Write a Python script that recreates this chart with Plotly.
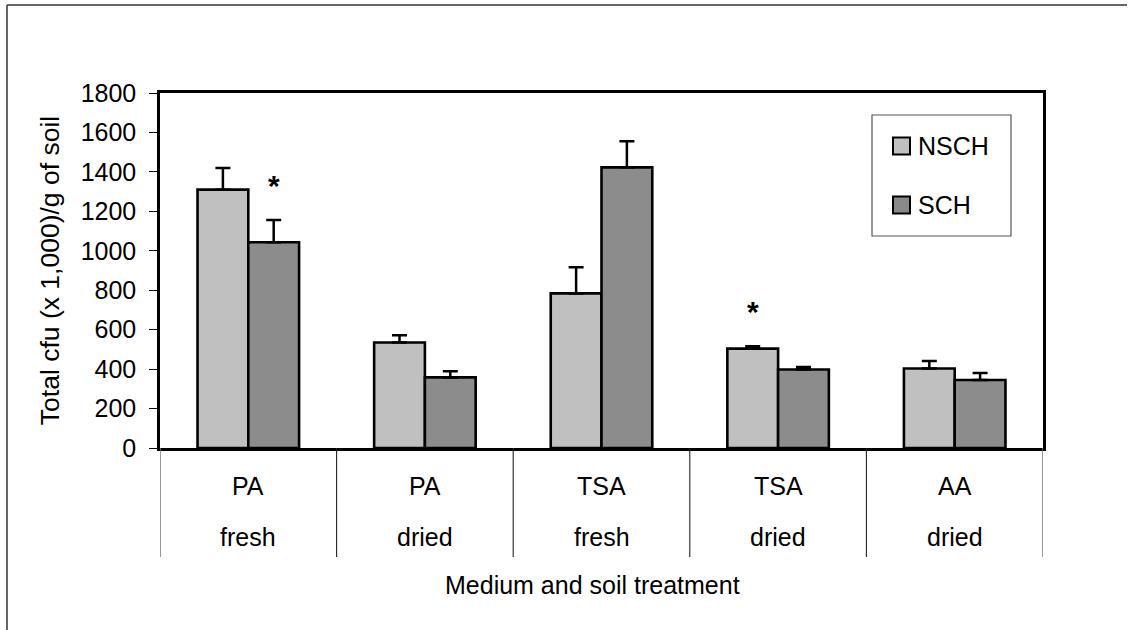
import plotly.graph_objects as go

# Medium / soil-treatment groups
media = ["PA", "PA", "TSA", "TSA", "AA"]
treatments = ["fresh", "dried", "fresh", "dried", "dried"]
categories = [f"{m} {t}" for m, t in zip(media, treatments)]

# Total cfu (x 1,000) per g of soil, with standard errors
series_names = ["NSCH", "SCH"]
nsch_values = [1310, 535, 784, 504, 403]
nsch_errors = [110, 37, 132, 12, 38]
sch_values = [1043, 358, 1423, 398, 345]
sch_errors = [113, 31, 132, 13, 35]

# Significance markers: category index, series, height of asterisk
sig_category = [0, 3]
sig_series = ["SCH", "NSCH"]
sig_height = [1330, 690]

y_ticks = [0, 200, 400, 600, 800, 1000, 1200, 1400, 1600, 1800]

FONT = "Liberation Sans, Arial, sans-serif"
W, H = 1130, 630
L, R, T, B = 160, 87, 93, 182

NSCH_FILL = "#c0c0c0"
SCH_FILL = "#8a8a8a"

fig = go.Figure()

fig.add_trace(go.Bar(
    name=series_names[0], x=categories, y=nsch_values,
    marker=dict(color=NSCH_FILL, line=dict(color="black", width=2.6)),
    error_y=dict(type="data", array=nsch_errors, arrayminus=[0] * 5,
                 symmetric=False, color="black", thickness=2.5, width=7.5),
))
fig.add_trace(go.Bar(
    name=series_names[1], x=categories, y=sch_values,
    marker=dict(color=SCH_FILL, line=dict(color="black", width=2.6),
                pattern=dict(shape=".", fgcolor="#666666", bgcolor="#aaaaaa",
                             size=2, solidity=0.5, fillmode="replace")),
    error_y=dict(type="data", array=sch_errors, arrayminus=[0] * 5,
                 symmetric=False, color="black", thickness=2.5, width=7.5),
))

plot_w = W - L - R
plot_h = H - T - B


def py(pix):
    """Pixel row -> paper y."""
    return (H - B - pix) / plot_h


def px(pix):
    """Pixel column -> paper x."""
    return (pix - L) / plot_w


annotations = []
shapes = []
label_font = dict(size=25, family=FONT, color="black")

# two-line category labels and separators below the axis
for i, (m, t) in enumerate(zip(media, treatments)):
    annotations.append(dict(x=i, xref="x", y=py(486), yref="paper", text=m,
                            xanchor="center", yanchor="middle",
                            showarrow=False, font=label_font))
    annotations.append(dict(x=i, xref="x", y=py(537), yref="paper", text=t,
                            xanchor="center", yanchor="middle",
                            showarrow=False, font=label_font))
for k in range(len(categories) + 1):
    edge = k in (0, len(categories))
    shapes.append(dict(type="line", xref="x", yref="paper",
                       x0=k - 0.5, x1=k - 0.5, y0=0, y1=py(557),
                       line=dict(color="#777777" if edge else "#222222",
                                 width=1.5 if edge else 1.1)))

# significance asterisks
bar_half = plot_w / len(categories) * 0.575 / 4
for ci, s, h in zip(sig_category, sig_series, sig_height):
    annotations.append(dict(
        x=ci, xref="x", y=h, yref="y", text="<b>*</b>", showarrow=False,
        xshift=bar_half if s == "SCH" else -bar_half,
        font=dict(size=30, family=FONT, color="black")))

# axis title below the category labels
annotations.append(dict(x=px(592), xref="paper", y=py(585), yref="paper",
                        text="Medium and soil treatment", showarrow=False,
                        xanchor="center", yanchor="middle", font=label_font))

# boxed key with square swatches
shapes.append(dict(type="rect", xref="paper", yref="paper",
                   x0=px(872), x1=px(1011), y0=py(236), y1=py(115),
                   line=dict(color="#555555", width=1.2), fillcolor="white"))
for name, fill, cy in zip(series_names, [NSCH_FILL, SCH_FILL], [146, 205]):
    shapes.append(dict(type="rect", xref="paper", yref="paper",
                       x0=px(893), x1=px(910), y0=py(cy + 8.5), y1=py(cy - 8.5),
                       line=dict(color="black", width=2), fillcolor=fill))
    annotations.append(dict(x=px(916), xref="paper", y=py(cy), yref="paper",
                            text=name, showarrow=False, xanchor="left",
                            yanchor="middle", font=label_font))

# outer chart frame: only its top and left edges fall inside the page
frame = dict(color="#333333", width=1.5)
shapes.append(dict(type="line", xref="paper", yref="paper",
                   x0=px(7), x1=px(7), y0=py(5), y1=py(630), line=frame))
shapes.append(dict(type="line", xref="paper", yref="paper",
                   x0=px(7), x1=px(1127), y0=py(5), y1=py(5), line=frame))

fig.update_layout(
    width=W, height=H,
    margin=dict(l=L, r=R, t=T, b=B, pad=0),
    paper_bgcolor="white", plot_bgcolor="white",
    barmode="group", bargap=0.425, bargroupgap=0,
    font=dict(family=FONT, size=25, color="black"),
    showlegend=False,
    annotations=annotations,
    shapes=shapes,
)

fig.update_xaxes(showticklabels=False, ticks="", showline=True, linecolor="black",
                 linewidth=2.5, mirror=True, showgrid=False, zeroline=False,
                 range=[-0.5, len(categories) - 0.5])
fig.update_yaxes(range=[0, 1800], tickvals=y_ticks, ticks="outside", ticklen=8,
                 tickcolor="black", tickwidth=1.2, showline=True, linecolor="black",
                 linewidth=2.5, mirror=True, showgrid=False, zeroline=False,
                 ticklabelstandoff=8,
                 tickfont=dict(size=25, family=FONT, color="black"),
                 title=dict(text="Total cfu (x 1,000)/g of soil", standoff=14,
                            font=dict(size=26.5, family=FONT, color="black")))

fig.write_html("out.html")
